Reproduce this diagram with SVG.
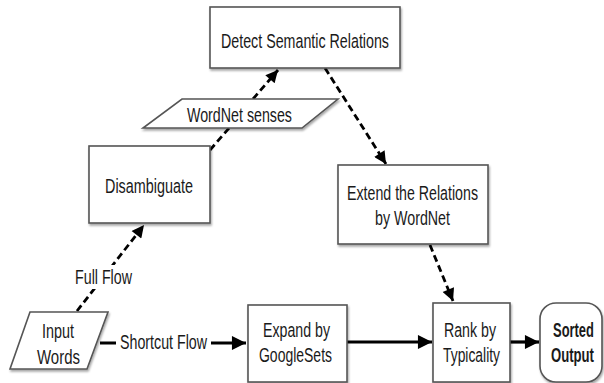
<svg xmlns="http://www.w3.org/2000/svg" width="604" height="383" viewBox="0 0 604 383">
  <defs>
    <style>
      .box { fill: #ffffff; stroke: #555555; stroke-width: 1.6; filter: url(#shadow); }
      .lbl { font-family: "Liberation Sans", Arial, sans-serif; font-size: 20.5px; fill: #1a1a1a; }
      .bold { font-weight: bold; text-anchor: middle; }
      .dash { fill: none; stroke: #000000; stroke-width: 2.8; stroke-dasharray: 7 4; }
      .solid { fill: none; stroke: #000000; stroke-width: 3.2; }
      .bg { fill: #ffffff; stroke: none; }
    </style>
    <filter id="shadow" x="-10%" y="-10%" width="130%" height="140%">
      <feDropShadow dx="1" dy="2" stdDeviation="1.2" flood-color="#000000" flood-opacity="0.35"/>
    </filter>
    <marker id="arrow" viewBox="0 0 10 10" refX="10" refY="5" markerWidth="5" markerHeight="4.4" markerUnits="strokeWidth" orient="auto">
      <path d="M0,0 L10,5 L0,10 z" fill="#000000"/>
    </marker>
  </defs>

  <!-- connectors -->
  <g id="connectors">
    <line class="dash" x1="77" y1="311" x2="144" y2="225" marker-end="url(#arrow)"/>
    <line class="dash" x1="210" y1="150" x2="230" y2="127"/>
    <line class="dash" x1="253" y1="99" x2="278" y2="70" marker-end="url(#arrow)"/>
    <line class="dash" x1="325" y1="68" x2="386" y2="164" marker-end="url(#arrow)"/>
    <line class="dash" x1="430" y1="245" x2="453" y2="301" marker-end="url(#arrow)"/>
    <line class="solid" x1="100" y1="343" x2="246" y2="343" marker-end="url(#arrow)"/>
    <line class="solid" x1="347" y1="342" x2="432" y2="342" marker-end="url(#arrow)"/>
    <line class="solid" x1="510" y1="342" x2="539" y2="342" marker-end="url(#arrow)"/>
    <!-- edge labels -->
    <rect class="bg" x="73" y="265" width="62" height="24"/>
    <text class="lbl" x="75" y="284" textLength="57" lengthAdjust="spacingAndGlyphs">Full Flow</text>
    <rect class="bg" x="116" y="330" width="95" height="24"/>
    <text class="lbl" x="120" y="349" textLength="87" lengthAdjust="spacingAndGlyphs">Shortcut Flow</text>
  </g>

  <g id="detect">
    <rect class="box" x="210" y="7" width="190" height="61"/>
    <text class="lbl" x="221" y="48" textLength="168" lengthAdjust="spacingAndGlyphs">Detect Semantic Relations</text>
  </g>

  <g id="wordnet-senses">
    <polygon class="box" points="182,99 338,99 302,128 143,128"/>
    <text class="lbl" x="187" y="122" textLength="105" lengthAdjust="spacingAndGlyphs">WordNet senses</text>
  </g>

  <g id="disambiguate">
    <rect class="box" x="89" y="146" width="121" height="77"/>
    <text class="lbl" x="105" y="193" textLength="88" lengthAdjust="spacingAndGlyphs">Disambiguate</text>
  </g>

  <g id="extend">
    <rect class="box" x="338" y="165" width="150" height="79"/>
    <text class="lbl" x="347" y="200" textLength="131" lengthAdjust="spacingAndGlyphs">Extend the Relations</text>
    <text class="lbl" x="375" y="225" textLength="75" lengthAdjust="spacingAndGlyphs">by WordNet</text>
  </g>

  <g id="input-words">
    <polygon class="box" points="30,312 108,312 87,369 10,369"/>
    <text class="lbl" x="42" y="338" textLength="32" lengthAdjust="spacingAndGlyphs">Input</text>
    <text class="lbl" x="37" y="364" textLength="43" lengthAdjust="spacingAndGlyphs">Words</text>
  </g>

  <g id="expand">
    <rect class="box" x="248" y="305" width="99" height="77"/>
    <text class="lbl" x="263" y="337" textLength="67" lengthAdjust="spacingAndGlyphs">Expand by</text>
    <text class="lbl" x="259" y="362" textLength="73" lengthAdjust="spacingAndGlyphs">GoogleSets</text>
  </g>

  <g id="rank">
    <rect class="box" x="433" y="303" width="77" height="79"/>
    <text class="lbl" x="444" y="337" textLength="52" lengthAdjust="spacingAndGlyphs">Rank by</text>
    <text class="lbl" x="443" y="362" textLength="57" lengthAdjust="spacingAndGlyphs">Typicality</text>
  </g>

  <g id="sorted-output">
    <rect class="box" x="540" y="303" width="62" height="79" rx="16" ry="16"/>
    <text class="lbl bold" transform="translate(573.5,337) scale(0.63,1)">Sorted</text>
    <text class="lbl bold" transform="translate(572.5,362) scale(0.64,1)">Output</text>
  </g>
</svg>
